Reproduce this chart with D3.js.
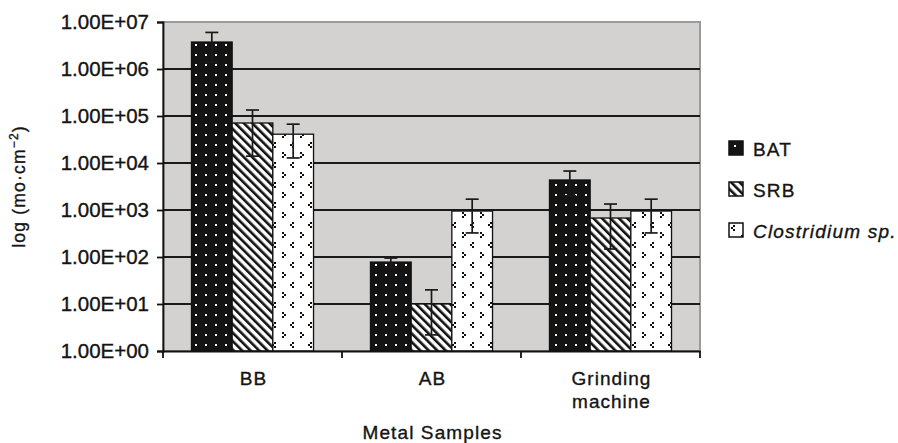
<!DOCTYPE html>
<html><head><meta charset="utf-8">
<script src="https://cdn.jsdelivr.net/npm/d3@7"></script>
<style>
html,body{margin:0;padding:0;background:#fff;}
svg{display:block;font-family:"Liberation Sans",Arial,sans-serif;}
</style></head>
<body><svg id="chart" width="898" height="443"></svg>
<script>
const categories = ["BB", "AB", "Grinding machine"];
const categoryLines = [["BB"], ["AB"], ["Grinding", "machine"]];
const seriesNames = ["BAT", "SRB", "Clostridium sp."];
const batValues = [3.75e6, 78, 4350];
const batLow = [1.4e6, 60, 2000];
const batHigh = [6.0e6, 95, 6750];
const srbValues = [7.1e4, 10, 675];
const srbLow = [1.4e4, 2.2, 148];
const srbHigh = [1.34e5, 20, 1340];
const cloValues = [4.1e4, 950, 950];
const cloLow = [1.28e4, 325, 325];
const cloHigh = [6.7e4, 1700, 1700];
const tickValues = [1e0, 1e1, 1e2, 1e3, 1e4, 1e5, 1e6, 1e7];
const tickLabels = ["1.00E+00","1.00E+01","1.00E+02","1.00E+03","1.00E+04","1.00E+05","1.00E+06","1.00E+07"];

const series = [
  {name: seriesNames[0], values: batValues, low: batLow, high: batHigh, pat: "pBAT"},
  {name: seriesNames[1], values: srbValues, low: srbLow, high: srbHigh, pat: "pSRB"},
  {name: seriesNames[2], values: cloValues, low: cloLow, high: cloHigh, pat: "pCLO"}
];

const svg = d3.select("#chart");
const L = 163, R = 700, T = 22, B = 351;
const INK = "#141414";

// patterns
const defs = svg.append("defs");
const p1 = defs.append("pattern").attr("id","pBAT").attr("patternUnits","userSpaceOnUse")
  .attr("width",10).attr("height",10).attr("x",1).attr("y",0);
p1.append("rect").attr("width",10).attr("height",10).attr("fill","#141414");
p1.append("rect").attr("x",4).attr("y",4).attr("width",2).attr("height",2).attr("fill","#fff");

const p2 = defs.append("pattern").attr("id","pSRB").attr("patternUnits","userSpaceOnUse")
  .attr("width",6).attr("height",6).attr("patternTransform","rotate(-45)");
p2.append("rect").attr("width",6).attr("height",6).attr("fill","#fff");
p2.append("rect").attr("x",0).attr("y",0).attr("width",2.6).attr("height",6).attr("fill","#111");

const p3 = defs.append("pattern").attr("id","pCLO").attr("patternUnits","userSpaceOnUse")
  .attr("width",18).attr("height",20);
p3.append("rect").attr("width",18).attr("height",20).attr("fill","#fff");
[[4,2],[2,4],[4,6],[12,12],[14,14],[12,16]].forEach(d=>{
  p3.append("rect").attr("x",d[0]).attr("y",d[1]).attr("width",2).attr("height",2).attr("fill","#111");
});

// scales
const y = d3.scaleLog().domain([1, 1e7]).range([B, T]);
const x0 = d3.scaleBand().domain(categories).range([L, R]).padding(0);
const x1 = d3.scaleBand().domain(seriesNames).range([0, x0.bandwidth()]).paddingInner(0).paddingOuter(0.7);

// plot background
svg.append("rect").attr("x",L).attr("y",T).attr("width",R-L).attr("height",B-T)
  .attr("fill","#d4d2d0").attr("stroke","#9a9a9a").attr("stroke-width",2);

// gridlines
svg.append("g").selectAll("line").data(tickValues.slice(1,-1)).join("line")
  .attr("x1",L).attr("x2",R).attr("y1",d=>y(d)).attr("y2",d=>y(d))
  .attr("stroke","#1a1a1a").attr("stroke-width",1.8);

// bars
const groups = svg.append("g").selectAll("g").data(series).join("g");
groups.selectAll("rect").data(s => categories.map((c,i)=>({c, v:s.values[i], s}))).join("rect")
  .attr("x", d => x0(d.c) + x1(d.s.name))
  .attr("y", d => y(d.v))
  .attr("width", x1.bandwidth())
  .attr("height", d => B - y(d.v))
  .attr("fill", d => `url(#${d.s.pat})`)
  .attr("stroke","#111").attr("stroke-width",1.3);

// error bars
const eb = svg.append("g").attr("stroke","#1a1a1a").attr("stroke-width",1.7);
series.forEach(s => {
  categories.forEach((c,i) => {
    const cx = x0(c) + x1(s.name) + x1.bandwidth()/2;
    const yl = y(s.low[i]), yh = y(s.high[i]);
    eb.append("line").attr("x1",cx).attr("x2",cx).attr("y1",yl).attr("y2",yh);
    eb.append("line").attr("x1",cx-6.5).attr("x2",cx+6.5).attr("y1",yh).attr("y2",yh);
    eb.append("line").attr("x1",cx-6.5).attr("x2",cx+6.5).attr("y1",yl).attr("y2",yl);
  });
});

function ink(sel){ return sel.attr("fill",INK).attr("stroke",INK).attr("stroke-width",0.35); }

// y axis
const yAxis = d3.axisLeft(y).tickValues(tickValues)
  .tickFormat(d=>tickLabels[tickValues.indexOf(d)]).tickSize(6).tickPadding(8);
const gy = svg.append("g").attr("transform",`translate(${L},0)`).call(yAxis);
gy.select(".domain").attr("stroke","#111").attr("stroke-width",1.8);
gy.selectAll(".tick line").attr("stroke","#111").attr("stroke-width",1.8);
ink(gy.selectAll(".tick text").attr("font-size",20.5)
  .attr("font-family","'Liberation Sans',Arial,sans-serif"));

// x axis
const xAxis = d3.axisBottom(x0).tickSize(0).tickFormat("");
const gx = svg.append("g").attr("transform",`translate(0,${B})`).call(xAxis);
gx.select(".domain").attr("stroke","#111").attr("stroke-width",1.8);
gx.selectAll(".tick").remove();
const bounds = [L].concat(categories.map(c => x0(c) + x0.bandwidth()));
svg.append("g").selectAll("line").data(bounds).join("line")
  .attr("x1",d=>d).attr("x2",d=>d).attr("y1",B).attr("y2",B+7)
  .attr("stroke","#111").attr("stroke-width",1.8);

// category labels
categories.forEach((c,i) => {
  const cx = x0(c) + x0.bandwidth()/2 + 1;
  const t = ink(svg.append("text").attr("x", cx).attr("y", 385)
    .attr("text-anchor","middle").attr("font-size",19).attr("letter-spacing",1));
  categoryLines[i].forEach((ln,j) => {
    t.append("tspan").attr("x", cx).attr("dy", j===0?0:23).text(ln);
  });
});

// x title
ink(svg.append("text").attr("x",(L+R)/2 + 1).attr("y",439).attr("text-anchor","middle")
  .attr("font-size",19).attr("letter-spacing",1.1)).text("Metal Samples");

// y title
const yt = ink(svg.append("text").attr("transform",`translate(25,${(T+B)/2}) rotate(-90)`)
  .attr("text-anchor","middle").attr("font-size",17.5).attr("letter-spacing",1.2));
yt.append("tspan").text("log (mo·cm");
yt.append("tspan").attr("font-size",12).attr("dy",-7).text("−2");
yt.append("tspan").attr("dy",7).text(")");

// legend
const legend = svg.append("g").selectAll("g").data(series).join("g")
  .attr("transform",(d,i)=>`translate(729,${141 + i*41})`);
legend.append("rect").attr("width",14).attr("height",14)
  .attr("fill",d=>`url(#${d.pat})`).attr("stroke","#111").attr("stroke-width",1.5);
ink(legend.append("text").attr("x",24).attr("y",15).attr("font-size",19).attr("letter-spacing",1.2)
  .attr("font-style",(d,i)=>i===2?"italic":"normal")).text(d=>d.name);
</script>
</body></html>
